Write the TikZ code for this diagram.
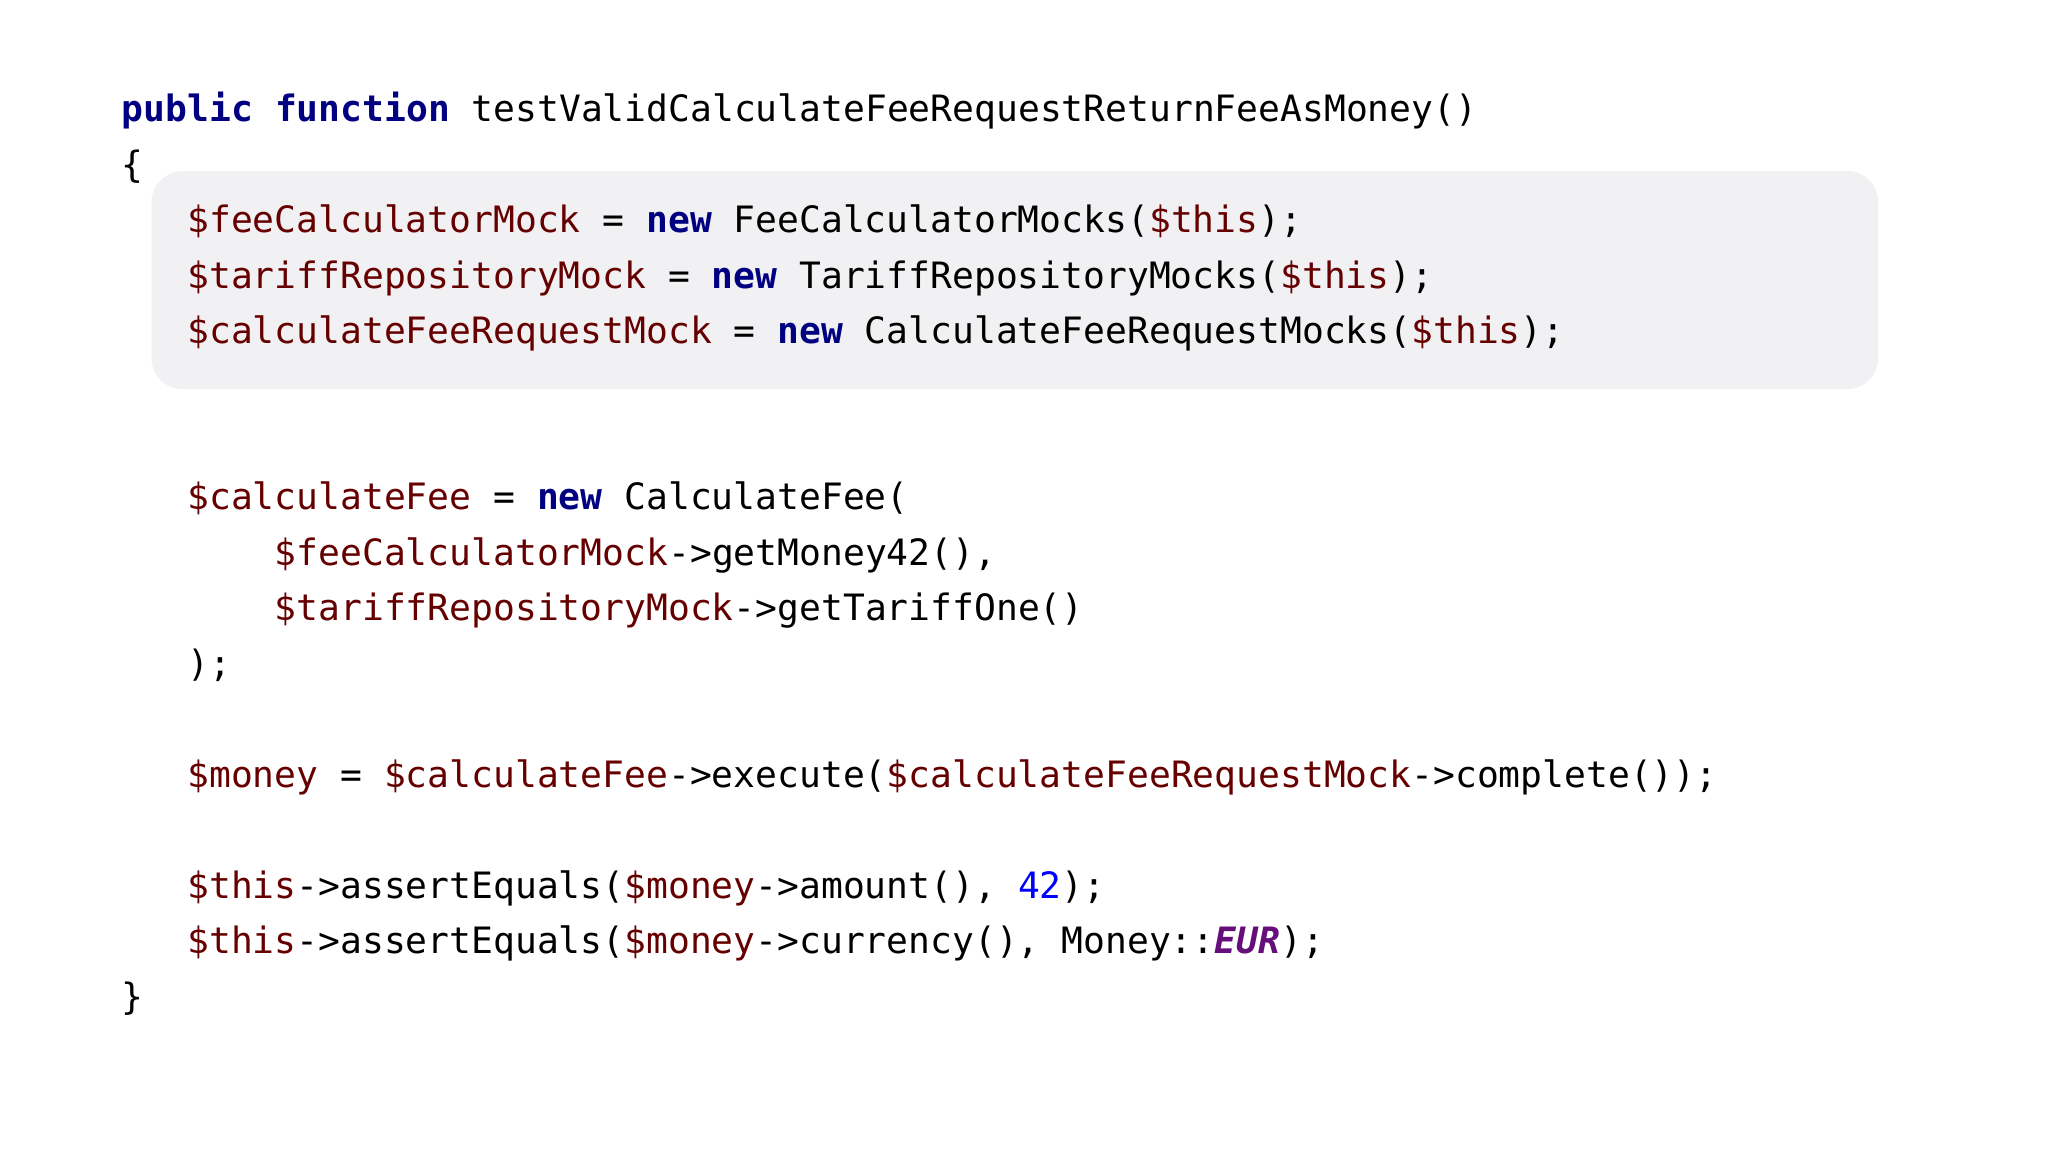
\documentclass[tikz,border=0pt]{standalone}
\usepackage{fontspec}
\setmonofont{DejaVu Sans Mono}
\definecolor{kw}{HTML}{000080}
\definecolor{vr}{HTML}{660000}
\definecolor{nm}{HTML}{0000FF}
\definecolor{cs}{HTML}{660E7A}
\definecolor{hl}{HTML}{F1F1F3}
\newcommand{\K}[1]{\textcolor{kw}{\bfseries #1}}
\newcommand{\V}[1]{\textcolor{vr}{\$#1}}
\tikzset{code/.style={anchor=base west,inner sep=0pt,font=\ttfamily\fontsize{13.9}{16}\selectfont,text=black}}
\begin{document}
\begin{tikzpicture}[x=0.5pt,y=-0.5pt]
\useasboundingbox (0,0) rectangle (1568,882);
\fill[white] (0,0) rectangle (1568,882);
\fill[hl,rounded corners=12pt] (116,131) rectangle (1438,298);
\node[code] (l1) at (93,93) {\K{public} \K{function} testValidCalculateFeeRequestReturnFeeAsMoney()};
\node[code] (l2) at (93,136) {\{};
\node[code] (l3) at (143,178) {\V{feeCalculatorMock} = \K{new} FeeCalculatorMocks(\V{this});};
\node[code] (l4) at (143,221) {\V{tariffRepositoryMock} = \K{new} TariffRepositoryMocks(\V{this});};
\node[code] (l5) at (143,263) {\V{calculateFeeRequestMock} = \K{new} CalculateFeeRequestMocks(\V{this});};
\node[code] (l6) at (143,390) {\V{calculateFee} = \K{new} CalculateFee(};
\node[code] (l7) at (210,433) {\V{feeCalculatorMock}->getMoney42(),};
\node[code] (l8) at (210,475) {\V{tariffRepositoryMock}->getTariffOne()};
\node[code] (l9) at (143,518) {);};
\node[code] (l10) at (143,603) {\V{money} = \V{calculateFee}->execute(\V{calculateFeeRequestMock}->complete());};
\node[code] (l11) at (143,688) {\V{this}->assertEquals(\V{money}->amount(), \textcolor{nm}{42});};
\node[code] (l12) at (143,730) {\V{this}->assertEquals(\V{money}->currency(), Money::\textcolor{cs}{\bfseries\itshape EUR});};
\node[code] (l13) at (93,773) {\}};
\end{tikzpicture}
\end{document}
